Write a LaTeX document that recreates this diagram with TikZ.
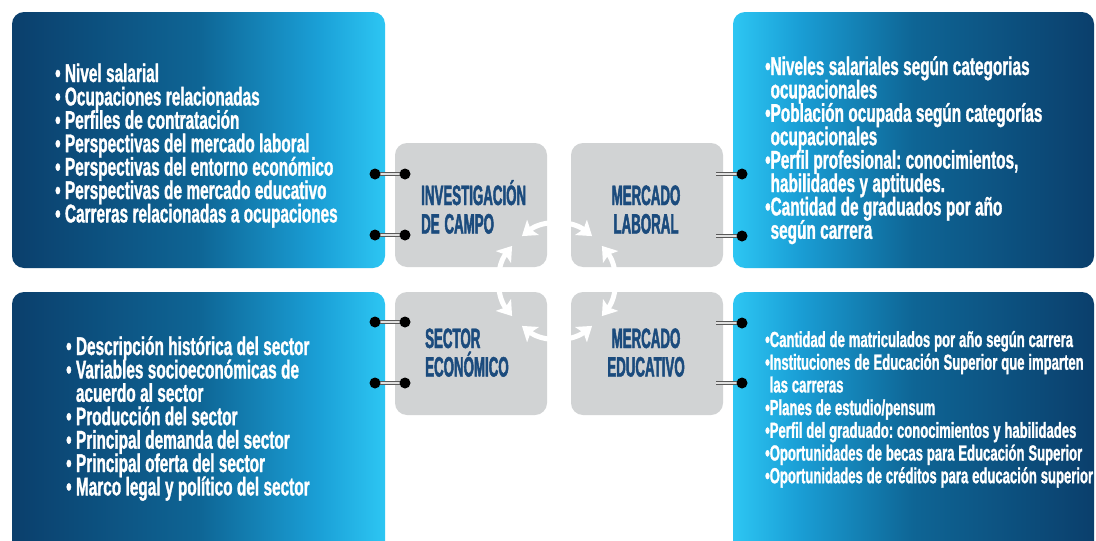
\documentclass[tikz,border=0pt]{standalone}
\usepackage{fontspec}
\usetikzlibrary{arrows.meta}

% condensed faces for the lists and the card headings
\newfontfamily\listfont{Liberation Sans Bold}[FakeStretch=0.6, FakeBold=1.2]
\newfontfamily\headfont{Liberation Sans Bold}[FakeStretch=0.475, FakeBold=1.6]

\definecolor{navy}{HTML}{0B3F6C}
\definecolor{midblue}{HTML}{0E6595}
\definecolor{skyblue}{HTML}{1A9FD6}
\definecolor{cyanedge}{HTML}{2DC6F3}
\definecolor{cardgray}{HTML}{D1D3D4}
\definecolor{headblue}{HTML}{1B4B7D}

% panel fades: dark on the outer side, light next to the cards
\pgfdeclarehorizontalshading{fadeR}{100bp}{color(0bp)=(navy); color(25bp)=(navy);
  color(50bp)=(midblue); color(66bp)=(skyblue); color(75bp)=(cyanedge); color(100bp)=(cyanedge)}
\pgfdeclarehorizontalshading{fadeL}{100bp}{color(0bp)=(cyanedge); color(25bp)=(cyanedge);
  color(34bp)=(skyblue); color(50bp)=(midblue); color(75bp)=(navy); color(100bp)=(navy)}

% bullet helpers
\newcommand\bsp[1]{\textbullet\ #1}
\newcommand\csp[1]{\phantom{\textbullet\ }#1}
\newcommand\btt[1]{\textbullet#1}
\newcommand\ctt[1]{\phantom{\textbullet}#1}

% tight set-up: narrow word spaces, fixed leading
\newcommand\tightlines[1]{\spaceskip=#1 plus 0.5pt minus 0.5pt\relax
  \xspaceskip=#1\relax\lineskiplimit=-50pt\relax\lineskip=0pt\relax}

\tikzset{
  panel/.style={shade, rounded corners=12pt, inner sep=0pt, draw=none},
  card/.style={fill=cardgray, rounded corners=12pt, inner sep=0pt,
    minimum width=152pt, minimum height=124pt},
  listtxt/.style={text=white, align=left, text width=345pt, inner sep=0pt,
    font=\listfont\fontsize{25.6}{23.4}\selectfont,
    execute at begin node=\tightlines{4.4pt}},
  smalltxt/.style={text=white, align=left, text width=345pt, inner sep=0pt,
    font=\listfont\fontsize{21.8}{22.7}\selectfont,
    execute at begin node=\tightlines{3.9pt}},
  head/.style={text=headblue, text width=140pt, inner sep=0pt,
    font=\headfont\fontsize{28}{28.5}\selectfont,
    execute at begin node=\tightlines{4.8pt}},
  ringbar/.style={draw=black!65, line width=0.9pt, double=black!12, double distance=2.6pt},
  ringdot/.style={fill=black},
  cyc/.style={draw=white, line width=5pt,
    {Stealth[length=14pt,width=19pt,inset=3pt]}-{Stealth[length=14pt,width=19pt,inset=3pt]}}
}

\begin{document}
\begin{tikzpicture}[x=1pt,y=-1pt]
\clip (0,0) rectangle (1096,541);
\fill[white] (0,0) rectangle (1096,541);

% outer panels
\node[panel, shading=fadeR, minimum width=373pt, minimum height=256pt] (lt) at (198.5,140) {};
\node[panel, shading=fadeL, minimum width=361pt, minimum height=256pt] (rt) at (913.5,140) {};
\node[panel, shading=fadeR, minimum width=373pt, minimum height=268pt] (lb) at (198.5,426) {};
\node[panel, shading=fadeL, minimum width=361pt, minimum height=268pt] (rb) at (913.5,426) {};

% central cards
\node[card] (inv) at (471,205) {};
\node[card] (lab) at (647,205) {};
\node[card, minimum height=123pt] (eco) at (471,353.5) {};
\node[card, minimum height=123pt] (edu) at (647,353.5) {};

% card headings
\node[head, align=left, anchor=base west] (invt) at (421,205) {INVESTIGACIÓN\\DE CAMPO};
\node[head, align=center, anchor=base] (labt) at (646,205) {MERCADO\\LABORAL};
\node[head, align=left, anchor=base west] (ecot) at (425,348) {SECTOR\\ECONÓMICO};
\node[head, align=center, anchor=base] (edut) at (646,348) {MERCADO\\EDUCATIVO};

% panel lists
\node[listtxt, anchor=base west] (ltx) at (55,82) {%
  \bsp{Nivel salarial}\\
  \bsp{Ocupaciones relacionadas}\\
  \bsp{Perfiles de contratación}\\
  \bsp{Perspectivas del mercado laboral}\\
  \bsp{Perspectivas del entorno económico}\\
  \bsp{Perspectivas de mercado educativo}\\
  \bsp{Carreras relacionadas a ocupaciones}};

\node[listtxt, anchor=base west] (rtx) at (765,75) {%
  \btt{Niveles salariales según categorias}\\
  \ctt{ocupacionales}\\
  \btt{Población ocupada según categorías}\\
  \ctt{ocupacionales}\\
  \btt{Perfil profesional: conocimientos,}\\
  \ctt{habilidades y aptitudes.}\\
  \btt{Cantidad de graduados por año}\\
  \ctt{según carrera}};

\node[listtxt, anchor=base west] (lbx) at (66,355) {%
  \bsp{Descripción histórica del sector}\\
  \bsp{Variables socioeconómicas de}\\
  \csp{acuerdo al sector}\\
  \bsp{Producción del sector}\\
  \bsp{Principal demanda del sector}\\
  \bsp{Principal oferta del sector}\\
  \bsp{Marco legal y político del sector}};

\node[smalltxt, anchor=base west] (rbx) at (765,347) {%
  \btt{Cantidad de matriculados por año según carrera}\\
  \btt{Instituciones de Educación Superior que imparten}\\
  \ctt{las carreras}\\
  \btt{Planes de estudio/pensum}\\
  \btt{Perfil del graduado: conocimientos y habilidades}\\
  \btt{Oportunidades de becas para Educación Superior}\\
  \btt{Oportunidades de créditos para educación superior}};

% cycle arrows around the centre of the four cards
\coordinate (hub) at (557,281);
\draw[cyc] (hub) ++(52:57pt) arc[start angle=52, end angle=128, radius=57pt];
\draw[cyc] (hub) ++(142:57pt) arc[start angle=142, end angle=218, radius=57pt];
\draw[cyc] (hub) ++(232:57pt) arc[start angle=232, end angle=308, radius=57pt];
\draw[cyc] (hub) ++(-38:57pt) arc[start angle=-38, end angle=38, radius=57pt];

% binder rings between panels and cards
\coordinate (a1) at (375,174); \coordinate (b1) at (405,174);
\coordinate (a2) at (375,235); \coordinate (b2) at (405,235);
\coordinate (a3) at (375,322); \coordinate (b3) at (405,322);
\coordinate (a4) at (375,383); \coordinate (b4) at (405,383);
\coordinate (c1) at (716,174); \coordinate (d1) at (742,174);
\coordinate (c2) at (716,236); \coordinate (d2) at (742,236);
\coordinate (c3) at (716,323); \coordinate (d3) at (742,323);
\coordinate (c4) at (716,383); \coordinate (d4) at (742,383);
\foreach \i in {1,2,3,4}{
  \draw[ringbar] (a\i) -- (b\i);
  \fill[ringdot] (a\i) circle (5.5pt);
  \fill[ringdot] (b\i) circle (5.5pt);
  \draw[ringbar] (c\i) -- (d\i);
  \fill[ringdot] (d\i) circle (5.5pt);
}
\end{tikzpicture}
\end{document}
